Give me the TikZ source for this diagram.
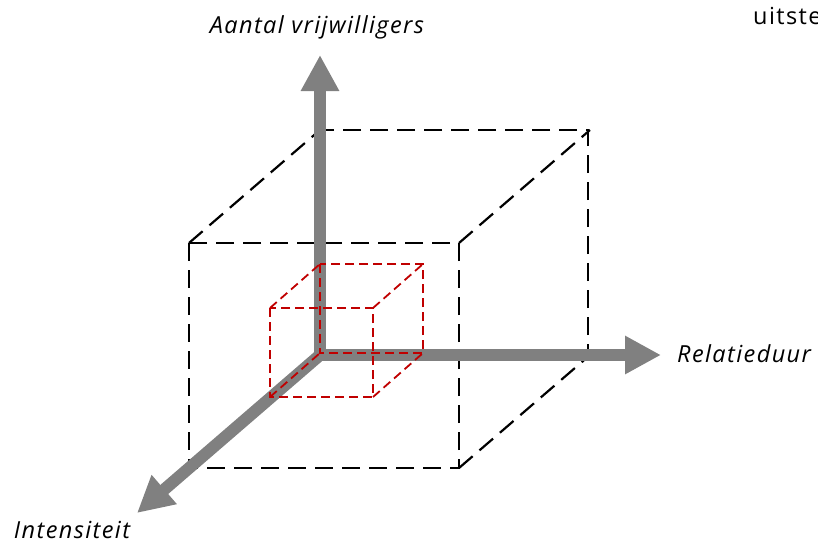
\documentclass[tikz,border=0pt]{standalone}
\usepackage{fontspec}
\setmainfont{Open Sans}
\newfontfamily\asfont[LetterSpace=6]{Open Sans}
\usetikzlibrary{arrows.meta}

\definecolor{asgrijs}{HTML}{808080}
\definecolor{kubusrood}{HTML}{C00000}

\tikzset{
  as/.style={draw=asgrijs, line width=12pt, -{Triangle[length=36pt, width=36pt]}},
  kubusgroot/.style={draw=black, line width=2.2pt, dash pattern=on 18pt off 9pt},
  kubusklein/.style={draw=kubusrood, line width=1.8pt, dash pattern=on 9pt off 5pt},
  aslabel/.style={inner sep=0pt, font=\asfont\fontsize{23.5}{28}\selectfont\itshape},
}

\begin{document}
\begin{tikzpicture}[x=1pt, y=-1pt]
  \useasboundingbox (0,0) rectangle (818,543);
  % grote kubus (achter de assen)
  \draw[kubusgroot] (189,243) rectangle (459,468);
  \draw[kubusgroot] (320,130) rectangle (588,355);
  \foreach \a/\b in {189/243, 459/243, 459/468, 189/468}{
    \draw[kubusgroot] (\a,\b) -- (\a+131,\b-113);
  }
  % assen
  \coordinate (o) at (320,355);
  \coordinate (ytop) at (320,55);
  \coordinate (xtop) at (661,355);
  \coordinate (ztop) at (137,513);
  \draw[as] (o) -- (ytop);
  \draw[as] (o) -- (xtop);
  \draw[as] (o) -- (ztop);
  % kleine kubus (boven de assen)
  \draw[kubusklein] (270,308) rectangle (373,397);
  \draw[kubusklein] (320,264) rectangle (423,353);
  \foreach \a/\b in {270/308, 373/308, 373/397, 270/397}{
    \draw[kubusklein] (\a,\b) -- (\a+50,\b-44);
  }
  % labels
  \node[aslabel, anchor=base] (aantal) at (317,34) {Aantal vrijwilligers};
  \node[aslabel, anchor=base west] (relatie) at (677,362) {Relatieduur};
  \node[aslabel, anchor=base] (intens) at (72,538) {Intensiteit};
  \node[inner sep=0pt, anchor=base west, font=\asfont\fontsize{23.5}{28}\selectfont] (uitstel) at (753,25) {uitste};
\end{tikzpicture}
\end{document}
